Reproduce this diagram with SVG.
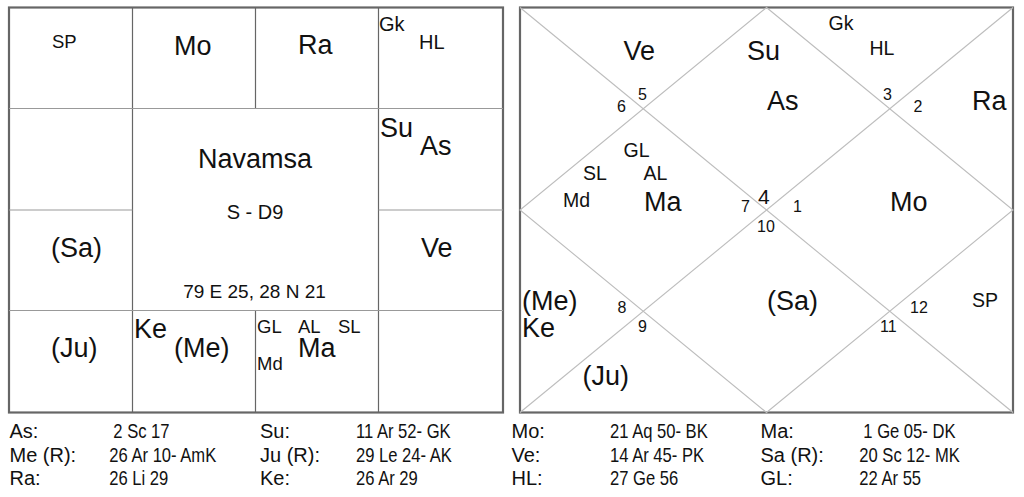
<svg xmlns="http://www.w3.org/2000/svg" width="1024" height="497" viewBox="0 0 1024 497">
<style>
text{font-family:"Liberation Sans",Arial,sans-serif;fill:#111}
.b{font-size:27px}
.s{font-size:18.5px}
.m{font-size:19.5px}
.n{font-size:16px}
.t{font-size:20px}
.border{fill:#fff;stroke:#666;stroke-width:2.2}
.vl{stroke:#666;stroke-width:1.2}
.hl{stroke:#999;stroke-width:1.2}
.dg{stroke:#bdbdbd;stroke-width:1.1;fill:none}
</style>
<rect width="1024" height="497" fill="#fff"/>
<g id="left-chart">
<rect class="border" x="9" y="7.5" width="494" height="405"/>
<g id="grid-left">
<line class="vl" x1="132.5" y1="7.5" x2="132.5" y2="412.5"/>
<line class="vl" x1="255.5" y1="7.5" x2="255.5" y2="108.5"/>
<line class="vl" x1="255.5" y1="310.5" x2="255.5" y2="412.5"/>
<line class="vl" x1="378.5" y1="7.5" x2="378.5" y2="412.5"/>
<line class="hl" x1="9" y1="108.5" x2="503" y2="108.5"/>
<line class="hl" x1="9" y1="310.5" x2="503" y2="310.5"/>
<line class="hl" x1="9" y1="210" x2="132.5" y2="210"/>
<line class="hl" x1="378.5" y1="210" x2="503" y2="210"/>
</g>
<g id="l-h1"><text class="s" x="52" y="48">SP</text></g>
<g id="l-h2"><text class="b" x="174" y="54.5">Mo</text></g>
<g id="l-h3"><text class="b" x="298" y="54">Ra</text></g>
<g id="l-h4"><text class="t" x="379" y="30.5">Gk</text><text class="t" x="419" y="49">HL</text></g>
<g id="l-h5"><text class="b" x="380" y="136.5">Su</text><text class="b" x="420" y="155">As</text></g>
<g id="l-center">
<text class="b" x="255" y="168" text-anchor="middle">Navamsa</text>
<text class="t" x="255" y="219" text-anchor="middle">S - D9</text>
<text style="font-size:19px" x="254.5" y="298" text-anchor="middle">79 E 25, 28 N 21</text>
</g>
<g id="l-h6"><text class="b" x="51" y="257">(Sa)</text></g>
<g id="l-h7"><text class="b" x="421" y="256.5">Ve</text></g>
<g id="l-h8"><text class="b" x="51" y="356.5">(Ju)</text></g>
<g id="l-h9"><text class="b" x="134" y="338">Ke</text><text class="b" x="174" y="356.5">(Me)</text></g>
<g id="l-h10">
<text class="s" x="257" y="333">GL</text>
<text class="s" x="298" y="333">AL</text>
<text class="s" x="338" y="333">SL</text>
<text class="s" x="257" y="370">Md</text>
<text class="b" x="298" y="356.5">Ma</text>
</g>
</g>
<g id="right-chart">
<rect class="border" x="520" y="7.5" width="493" height="405"/>
<g id="connectors">
<line class="dg" x1="520" y1="7.5" x2="1013" y2="412.5"/>
<line class="dg" x1="1013" y1="7.5" x2="520" y2="412.5"/>
<polygon class="dg" points="766.5,7.5 1013,210 766.5,412.5 520,210"/>
</g>
<g id="r-h5"><text class="b" x="623.5" y="60">Ve</text></g>
<g id="r-h4"><text class="b" x="747" y="60">Su</text><text class="b" x="767" y="110">As</text></g>
<g id="r-h3"><text class="m" x="828.5" y="30">Gk</text><text class="m" x="869.5" y="55">HL</text></g>
<g id="r-h2"><text class="b" x="972" y="110">Ra</text></g>
<g id="r-h6">
<text class="m" x="623.5" y="156.5">GL</text>
<text class="m" x="583" y="180">SL</text>
<text class="m" x="643.5" y="180">AL</text>
<text class="m" x="563" y="207">Md</text>
<text class="b" x="644" y="211">Ma</text>
</g>
<g id="r-h1"><text class="b" x="890" y="211">Mo</text></g>
<g id="r-h8"><text class="b" x="522" y="310">(Me)</text><text class="b" x="522" y="336.5">Ke</text></g>
<g id="r-h10"><text class="b" x="767" y="310">(Sa)</text></g>
<g id="r-h12"><text class="m" x="972" y="307">SP</text></g>
<g id="r-h9"><text class="b" x="582.5" y="385">(Ju)</text></g>
<g id="r-numbers">
<text class="n" x="638" y="100">5</text>
<text class="n" x="617" y="111.5">6</text>
<text class="n" x="883" y="100">3</text>
<text class="n" x="913.5" y="111.5">2</text>
<text class="n" x="741" y="212">7</text>
<text style="font-size:21px" x="758" y="204">4</text>
<text class="n" x="793" y="212">1</text>
<text class="n" x="757" y="232">10</text>
<text class="n" x="617.5" y="312.5">8</text>
<text class="n" x="638" y="332">9</text>
<text class="n" x="910" y="313">12</text>
<text class="n" x="880" y="332">11</text>
</g>
</g>
<g id="table">
<text class="t" x="9.5" y="437.5">As:</text>
<text class="t" transform="translate(113.3,437.5) scale(0.83,1)">2 Sc 17</text>
<text class="t" x="260" y="437.5">Su:</text>
<text class="t" transform="translate(356,437.5) scale(0.83,1)">11 Ar 52- GK</text>
<text class="t" x="511.5" y="437.5">Mo:</text>
<text class="t" transform="translate(610,437.5) scale(0.83,1)">21 Aq 50- BK</text>
<text class="t" x="760.5" y="437.5">Ma:</text>
<text class="t" transform="translate(863.3,437.5) scale(0.83,1)">1 Ge 05- DK</text>
<text class="t" x="9.5" y="461.5">Me (R):</text>
<text class="t" transform="translate(109.3,461.5) scale(0.83,1)">26 Ar 10- AmK</text>
<text class="t" x="260" y="461.5">Ju (R):</text>
<text class="t" transform="translate(356,461.5) scale(0.83,1)">29 Le 24- AK</text>
<text class="t" x="511.5" y="461.5">Ve:</text>
<text class="t" transform="translate(610,461.5) scale(0.83,1)">14 Ar 45- PK</text>
<text class="t" x="760.5" y="461.5">Sa (R):</text>
<text class="t" transform="translate(859.3,461.5) scale(0.83,1)">20 Sc 12- MK</text>
<text class="t" x="9.5" y="485">Ra:</text>
<text class="t" transform="translate(109.3,485) scale(0.83,1)">26 Li 29</text>
<text class="t" x="260" y="485">Ke:</text>
<text class="t" transform="translate(356,485) scale(0.83,1)">26 Ar 29</text>
<text class="t" x="511.5" y="485">HL:</text>
<text class="t" transform="translate(610,485) scale(0.83,1)">27 Ge 56</text>
<text class="t" x="760.5" y="485">GL:</text>
<text class="t" transform="translate(859.3,485) scale(0.83,1)">22 Ar 55</text>
</g>
</svg>
